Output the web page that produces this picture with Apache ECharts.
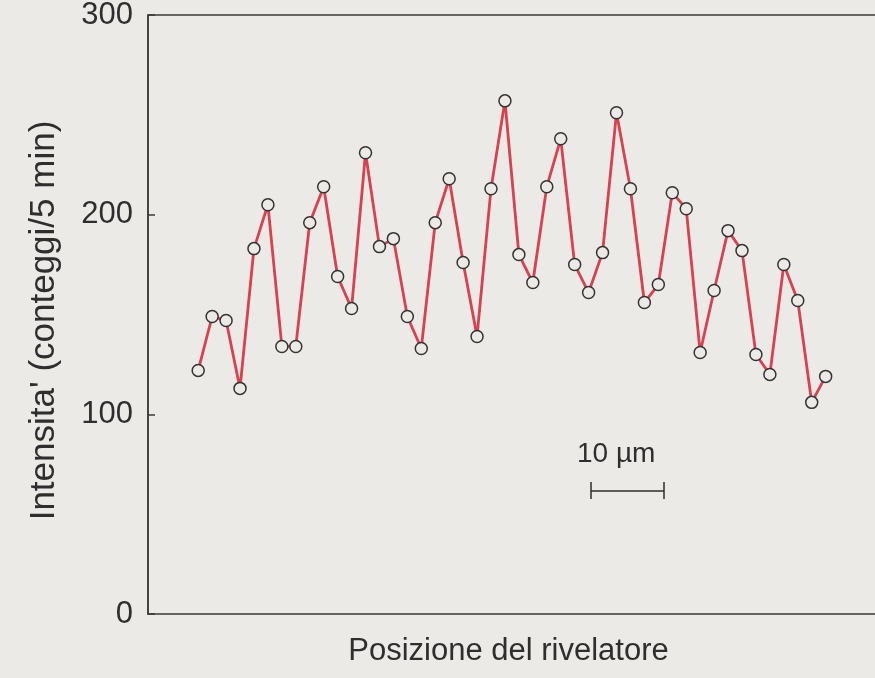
<!DOCTYPE html>
<html>
<head>
<meta charset="utf-8">
<script src="https://cdn.jsdelivr.net/npm/echarts@6/dist/echarts.min.js"></script>
<style>
  html, body { margin: 0; padding: 0; background: #ebeae7; }
  #grafico { width: 875px; height: 678px; }
</style>
</head>
<body>
<div id="grafico"></div>
<script>
// posizione del rivelatore (indice) e intensita'
let posizioni = [];
for (let i = 1; i <= 46; i++) posizioni.push(i);

let intensita = [
    122, 149, 147, 113, 183, 205, 134, 134, 196, 214,
    169, 153, 231, 184, 188, 149, 133, 196, 218, 176,
    139, 213, 257, 180, 166, 214, 238, 175, 161, 181,
    251, 213, 156, 165, 211, 203, 131, 162, 192, 182,
    130, 120, 175, 157, 106, 119
];

let ticksY = [0, 100, 200, 300];

function dibujarGrafico() {
    let graf = echarts.init(document.getElementById('grafico'));

    let datos = posizioni.map((x, i) => [x, intensita[i]]);
    let fuente = "'Liberation Sans', Arial, sans-serif";

    let option = {
        backgroundColor: '#ebeae7',
        animation: false,
        grid: {
            left: 148,
            right: -12,
            top: 15,
            bottom: 64,
            outerBoundsMode: 'none',
            containLabel: false,
            show: true,
            borderColor: '#3a3a3a',
            borderWidth: 1.5,
            backgroundColor: 'transparent'
        },
        xAxis: {
            type: 'value',
            min: -2.6,
            max: 50.4,
            name: 'Posizione del rivelatore',
            nameLocation: 'middle',
            nameGap: 22,
            nameTextStyle: { fontFamily: fuente, fontSize: 31, color: '#2e2e2e', padding: [0, 18, 0, 0] },
            axisLine: { show: false },
            axisTick: { show: false },
            axisLabel: { show: false },
            splitLine: { show: false }
        },
        yAxis: {
            type: 'value',
            min: ticksY[0],
            max: ticksY[ticksY.length - 1],
            interval: 100,
            name: "Intensita' (conteggi/5 min)",
            nameLocation: 'middle',
            nameGap: 86,
            nameTextStyle: { fontFamily: fuente, fontSize: 35, color: '#2e2e2e', padding: [0, 12, 0, 0] },
            axisLine: { show: true, onZero: false, lineStyle: { color: '#3a3a3a', width: 1.5 } },
            axisTick: { show: true, inside: true, length: 7, lineStyle: { color: '#3a3a3a', width: 1.5 } },
            axisLabel: { fontFamily: fuente, fontSize: 31, color: '#2e2e2e', margin: 15 },
            splitLine: { show: false }
        },
        graphic: [
            {
                type: 'text',
                left: 577,
                top: 440,
                style: { text: '10 \u00b5m', font: "28px 'Liberation Sans', Arial, sans-serif", fill: '#2e2e2e' }
            },
            {
                type: 'polyline',
                shape: { points: [[591, 482], [591, 499], [591, 491], [664, 491], [664, 482], [664, 499]] },
                style: { stroke: '#2e2e2e', lineWidth: 1.5, fill: null }
            }
        ],
        series: [
            {
                name: 'Intensita',
                type: 'line',
                data: datos,
                symbol: 'circle',
                symbolSize: 12,
                lineStyle: { color: '#d8414e', width: 2.8 },
                itemStyle: { color: '#ebeae7', borderColor: '#333', borderWidth: 1.5 },
                z: 3
            }
        ]
    };

    graf.setOption(option);
}

dibujarGrafico();
</script>
</body>
</html>
